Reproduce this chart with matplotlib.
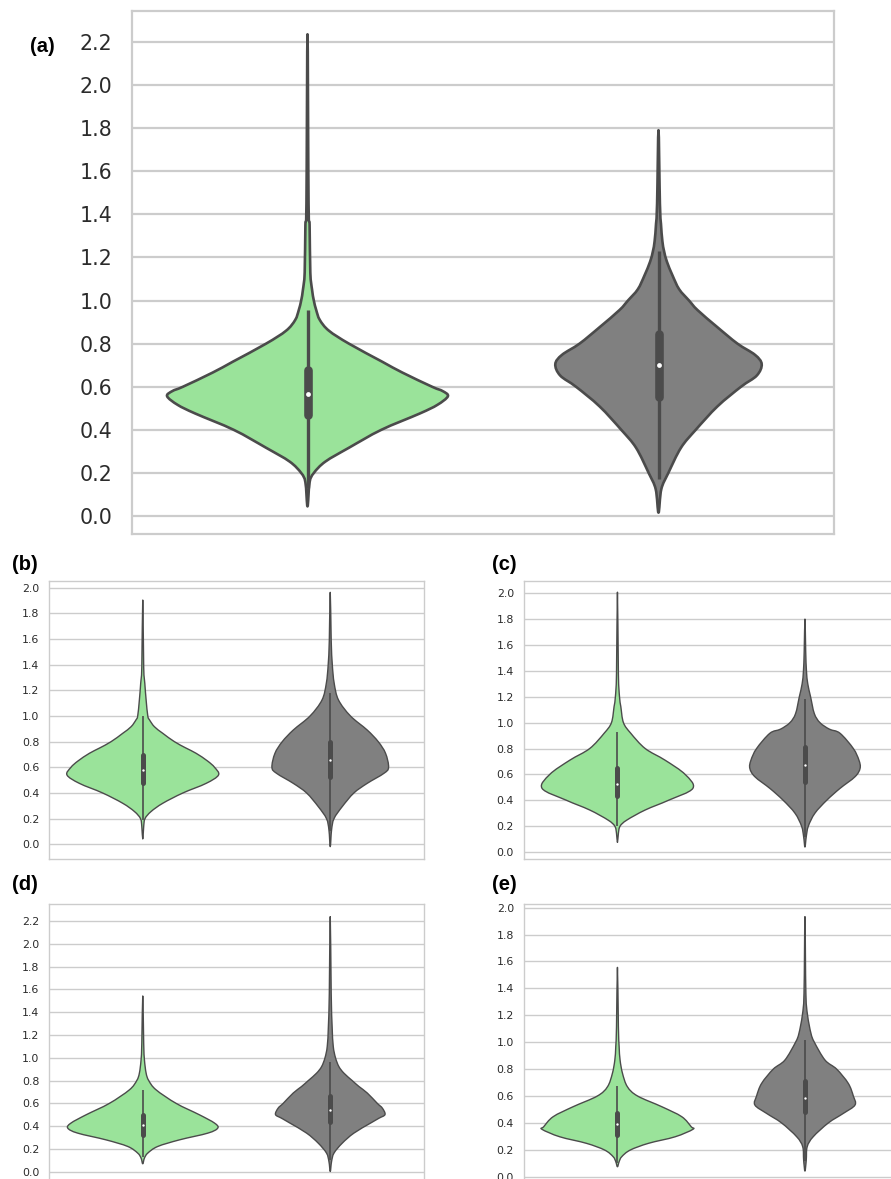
import matplotlib
matplotlib.use("Agg")
import matplotlib.pyplot as plt
from matplotlib.path import Path
from matplotlib.patches import PathPatch
import numpy as np

# ---------------- data ----------------
categories = ["green group", "gray group"]
panel_labels = ["(a)", "(b)", "(c)", "(d)", "(e)"]

# violin outlines: value (y) and half-width (data units, category spacing = 1)
a_green_y = [0.045, 0.157, 0.20, 0.253, 0.317, 0.40, 0.476, 0.516, 0.556, 0.58, 0.60, 0.666, 0.716, 0.80, 0.86, 0.91, 0.955, 1.0, 1.05, 1.13, 1.35, 1.45, 2.235]
a_green_hw = [0, 0.006, 0.018, 0.051, 0.118, 0.21, 0.32, 0.37, 0.40, 0.385, 0.355, 0.27, 0.213, 0.118, 0.061, 0.035, 0.025, 0.018, 0.013, 0.008, 0.006, 0.003, 0]
a_gray_y = [0.016, 0.125, 0.2, 0.317, 0.4, 0.509, 0.6, 0.652, 0.705, 0.748, 0.8, 0.876, 0.956, 1.0, 1.052, 1.116, 1.18, 1.228, 1.276, 1.356, 1.45, 1.79]
a_gray_hw = [0, 0.008, 0.028, 0.064, 0.106, 0.168, 0.235, 0.28, 0.294, 0.275, 0.225, 0.168, 0.111, 0.087, 0.059, 0.04, 0.024, 0.016, 0.011, 0.007, 0.004, 0]

b_green_y = [0.042, 0.138, 0.2, 0.255, 0.32, 0.4, 0.475, 0.54, 0.6, 0.65, 0.709, 0.75, 0.8, 0.865, 0.917, 0.97, 1.0, 1.125, 1.254, 1.384, 1.904]
b_green_hw = [0, 0.005, 0.012, 0.044, 0.107, 0.214, 0.338, 0.404, 0.383, 0.345, 0.285, 0.231, 0.169, 0.107, 0.062, 0.036, 0.027, 0.018, 0.011, 0.005, 0]
b_gray_y = [-0.018, 0.112, 0.2, 0.294, 0.4, 0.475, 0.553, 0.6, 0.709, 0.8, 0.891, 1.0, 1.125, 1.255, 1.4, 1.59, 1.964]
b_gray_hw = [0, 0.007, 0.02, 0.064, 0.126, 0.197, 0.286, 0.311, 0.295, 0.256, 0.197, 0.108, 0.044, 0.021, 0.011, 0.005, 0]

c_green_y = [0.075, 0.144, 0.2, 0.247, 0.325, 0.4, 0.492, 0.6, 0.71, 0.8, 0.918, 1.0, 1.124, 1.2, 1.38, 2.008]
c_green_hw = [0, 0.005, 0.014, 0.05, 0.148, 0.272, 0.402, 0.361, 0.254, 0.148, 0.071, 0.032, 0.018, 0.011, 0.005, 0]
c_gray_y = [0.039, 0.119, 0.2, 0.3, 0.4, 0.492, 0.582, 0.647, 0.71, 0.8, 0.918, 0.95, 1.0, 1.07, 1.2, 1.3, 1.4, 1.55, 1.8]
c_gray_hw = [0, 0.007, 0.018, 0.053, 0.116, 0.187, 0.267, 0.294, 0.288, 0.258, 0.187, 0.13, 0.08, 0.05, 0.03, 0.015, 0.008, 0.004, 0]

d_green_y = [0.07, 0.12, 0.164, 0.222, 0.28, 0.339, 0.383, 0.427, 0.5, 0.6, 0.719, 0.8, 0.865, 0.982, 1.128, 1.542]
d_green_hw = [0, 0.009, 0.027, 0.08, 0.196, 0.347, 0.40, 0.383, 0.302, 0.178, 0.071, 0.032, 0.018, 0.009, 0.005, 0]
d_gray_y = [0.003, 0.09, 0.164, 0.251, 0.339, 0.427, 0.47, 0.502, 0.558, 0.6, 0.69, 0.748, 0.8, 0.865, 0.923, 1.0, 1.1, 1.274, 1.566, 2.238]
d_gray_hw = [0, 0.007, 0.02, 0.064, 0.126, 0.215, 0.26, 0.292, 0.278, 0.251, 0.198, 0.153, 0.117, 0.073, 0.046, 0.028, 0.016, 0.010, 0.005, 0]

e_green_y = [0.074, 0.112, 0.149, 0.198, 0.248, 0.297, 0.352, 0.372, 0.446, 0.52, 0.6, 0.669, 0.768, 0.867, 0.967, 1.115, 1.556]
e_green_hw = [0, 0.009, 0.023, 0.068, 0.165, 0.308, 0.402, 0.393, 0.343, 0.237, 0.107, 0.053, 0.027, 0.014, 0.009, 0.005, 0]
e_gray_y = [0.042, 0.124, 0.223, 0.297, 0.4, 0.471, 0.533, 0.6, 0.694, 0.8, 0.867, 1.0, 1.066, 1.2, 1.363, 1.933]
e_gray_hw = [0, 0.007, 0.012, 0.044, 0.125, 0.205, 0.267, 0.258, 0.231, 0.169, 0.107, 0.05, 0.032, 0.014, 0.005, 0]

# box statistics: [lower whisker, q1, median, q3, upper whisker]
a_green_box = [0.13, 0.47, 0.567, 0.68, 0.955]
a_gray_box = [0.17, 0.553, 0.70, 0.847, 1.228]
b_green_box = [0.19, 0.475, 0.579, 0.70, 1.0]
b_gray_box = [0.10, 0.522, 0.657, 0.80, 1.18]
c_green_box = [0.20, 0.436, 0.528, 0.652, 0.93]
c_gray_box = [0.12, 0.544, 0.673, 0.814, 1.18]
d_green_box = [0.13, 0.32, 0.406, 0.50, 0.713]
d_gray_box = [0.10, 0.435, 0.538, 0.666, 0.967]
e_green_box = [0.10, 0.31, 0.389, 0.476, 0.677]
e_gray_box = [0.12, 0.478, 0.582, 0.714, 1.016]

a_ticks = [0.0, 0.2, 0.4, 0.6, 0.8, 1.0, 1.2, 1.4, 1.6, 1.8, 2.0, 2.2]
b_ticks = [0.0, 0.2, 0.4, 0.6, 0.8, 1.0, 1.2, 1.4, 1.6, 1.8, 2.0]
c_ticks = b_ticks
d_ticks = a_ticks
e_ticks = b_ticks

# ---------------- styling ----------------
GREEN = "#9ae39a"
GRAY = "#808080"
EDGE = "#4b4b4b"
GRID = "#cccccc"
TICKC = "#2b2b2b"

fig = plt.figure(figsize=(8.91, 11.79), dpi=100)
W, H = 891.0, 1179.0


def add_axes(left_px, top_px, w_px, h_px):
    return fig.add_axes([left_px / W, 1 - (top_px + h_px) / H, w_px / W, h_px / H])


def smooth_closed_path(px, py):
    """Closed Bezier path through the outline vertices (Catmull-Rom tangents)."""
    P = np.column_stack([px, py])
    n = len(P)
    verts = [P[0]]
    codes = [Path.MOVETO]
    for i in range(n):
        p0 = P[(i - 1) % n]
        p1 = P[i]
        p2 = P[(i + 1) % n]
        p3 = P[(i + 2) % n]
        c1 = p1 + (p2 - p0) / 6.0
        c2 = p2 - (p3 - p1) / 6.0
        verts += [c1, c2, p2]
        codes += [Path.CURVE4] * 3
    verts.append(P[0])
    codes.append(Path.CLOSEPOLY)
    return Path(np.array(verts), codes)


def draw_violin(ax, pos, ys, hws, box, color, lw_edge, lw_box, lw_whisk, msize):
    ys = np.asarray(ys, float)
    hws = np.asarray(hws, float)
    xs = np.concatenate([pos - hws, (pos + hws)[-2:0:-1]])
    yy = np.concatenate([ys, ys[-2:0:-1]])
    path = smooth_closed_path(xs, yy)
    ax.add_patch(PathPatch(path, facecolor=color, edgecolor=EDGE, linewidth=lw_edge,
                           joinstyle="round", zorder=2))
    lo, q1, med, q3, hi = box
    ax.plot([pos, pos], [lo, hi], color=EDGE, lw=lw_whisk, zorder=3,
            solid_capstyle="butt")
    ax.plot([pos, pos], [q1, q3], color=EDGE, lw=lw_box, zorder=4,
            solid_capstyle="round")
    ax.scatter([pos], [med], s=msize, color="white", zorder=5, linewidths=0)


def style_axes(ax, ylim, ticks, fs, pad, glw):
    ax.set_xlim(-0.5, 1.5)
    ax.set_ylim(*ylim)
    ax.set_yticks(ticks)
    ax.set_yticklabels([f"{t:.1f}" for t in ticks])
    ax.set_xticks([])
    ax.tick_params(axis="y", length=0, pad=pad, labelsize=fs, labelcolor=TICKC)
    ax.grid(axis="y", color=GRID, lw=glw, zorder=0)
    ax.set_axisbelow(True)
    for s in ax.spines.values():
        s.set_color(GRID)
        s.set_linewidth(glw)
    ax.set_facecolor("white")


panels = [
    dict(rect=(132, 11, 702, 523), ylim=(-0.083, 2.343), ticks=a_ticks,
         green=(a_green_y, a_green_hw, a_green_box), gray=(a_gray_y, a_gray_hw, a_gray_box),
         fs=14.8, pad=14, glw=1.6, lwe=1.9, lwb=6.2, lww=2.4, ms=12),
    dict(rect=(49, 580.7, 375, 278.6), ylim=(-0.117, 2.055), ticks=b_ticks,
         green=(b_green_y, b_green_hw, b_green_box), gray=(b_gray_y, b_gray_hw, b_gray_box),
         fs=7.9, pad=7, glw=1.0, lwe=1.0, lwb=3.6, lww=1.2, ms=3),
    dict(rect=(523.7, 580.7, 375, 278.6), ylim=(-0.056, 2.097), ticks=c_ticks,
         green=(c_green_y, c_green_hw, c_green_box), gray=(c_gray_y, c_gray_hw, c_gray_box),
         fs=7.9, pad=7, glw=1.0, lwe=1.0, lwb=3.6, lww=1.2, ms=3),
    dict(rect=(49, 904, 375, 278.6), ylim=(-0.095, 2.349), ticks=d_ticks,
         green=(d_green_y, d_green_hw, d_green_box), gray=(d_gray_y, d_gray_hw, d_gray_box),
         fs=7.9, pad=7, glw=1.0, lwe=1.0, lwb=3.6, lww=1.2, ms=3),
    dict(rect=(523.7, 904.3, 375, 278.6), ylim=(-0.046, 2.025), ticks=e_ticks,
         green=(e_green_y, e_green_hw, e_green_box), gray=(e_gray_y, e_gray_hw, e_gray_box),
         fs=7.9, pad=7, glw=1.0, lwe=1.0, lwb=3.6, lww=1.2, ms=3),
]

for p in panels:
    ax = add_axes(*p["rect"])
    style_axes(ax, p["ylim"], p["ticks"], p["fs"], p["pad"], p["glw"])
    for pos, key, col in [(0, "green", GREEN), (1, "gray", GRAY)]:
        ys, hws, box = p[key]
        draw_violin(ax, pos, ys, hws, box, col, p["lwe"], p["lwb"], p["lww"], p["ms"])

label_pos = [(30, 47), (12, 565), (492, 565), (12, 885), (492, 885)]
for lab, (x, y) in zip(panel_labels, label_pos):
    fig.text(x / W, 1 - y / H, lab, ha="left", va="center", fontsize=14.5,
             fontweight="bold", family=["Liberation Sans", "DejaVu Sans"], color="black")

fig.savefig("out.png", dpi=100)
